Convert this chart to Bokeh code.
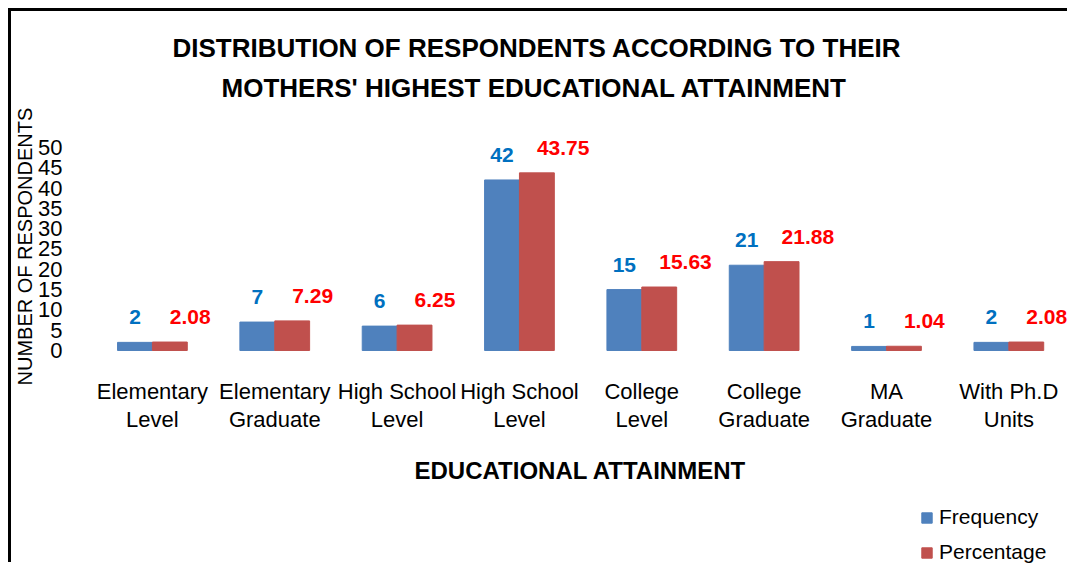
from bokeh.plotting import figure
from bokeh.models import (ColumnDataSource, Range1d, FixedTicker, Legend, LegendItem,
                          Title, Spacer)
from bokeh.layouts import column, row
from bokeh.core.properties import value
from bokeh.embed import file_html
from bokeh.resources import INLINE

categories = ["Elementary\nLevel", "Elementary\nGraduate", "High School\nLevel", "High School\nLevel",
              "College\nLevel", "College\nGraduate", "MA\nGraduate", "With Ph.D\nUnits"]
frequency = [2, 7, 6, 42, 15, 21, 1, 2]
percentage = [2.08, 7.29, 6.25, 43.75, 15.63, 21.88, 1.04, 2.08]
freq_labels = ["2", "7", "6", "42", "15", "21", "1", "2"]
pct_labels = ["2.08", "7.29", "6.25", "43.75", "15.63", "21.88", "1.04", "2.08"]
y_ticks = [0, 5, 10, 15, 20, 25, 30, 35, 40, 45, 50]
title_lines = ["DISTRIBUTION OF RESPONDENTS ACCORDING TO THEIR",
               "MOTHERS' HIGHEST EDUCATIONAL ATTAINMENT"]
series_names = ["Frequency", "Percentage"]
series_colors = ["#4F81BD", "#C0504D"]
label_colors = ["#0070C0", "#FF0000"]

idx = list(range(len(categories)))
BAR_W = 0.285
src = ColumnDataSource(dict(
    xb=[i - BAR_W / 2 for i in idx],
    xr=[i + BAR_W / 2 for i in idx],
    freq=frequency, pct=percentage,
    fl=freq_labels, pl=pct_labels,
))

FONT = "Liberation Sans"
W, H = 1059, 554

p = figure(width=W, height=H, output_backend="svg", toolbar_location=None, title=None,
           x_range=Range1d(-0.506, 7.504), y_range=Range1d(-52.96, 59.11),
           min_border_left=77, min_border_right=0, min_border_top=99, min_border_bottom=0)

t2 = Title(text=title_lines[1], align="left", offset=131, standoff=16,
           text_font=FONT, text_font_style="bold", text_font_size="26px", text_color="black")
t1 = Title(text=title_lines[0], align="left", offset=82, standoff=0,
           text_font=FONT, text_font_style="bold", text_font_size="26px", text_color="black")
p.add_layout(t2, "above")
p.add_layout(t1, "above")

p.outline_line_color = None
p.xgrid.grid_line_color = None
p.ygrid.grid_line_color = None

r1 = p.vbar(x="xb", top="freq", width=BAR_W, bottom=0, source=src,
            fill_color=series_colors[0], line_color=series_colors[0])
r2 = p.vbar(x="xr", top="pct", width=BAR_W, bottom=0, source=src,
            fill_color=series_colors[1], line_color=series_colors[1])

p.text(x="xb", y="freq", text="fl", source=src, text_align="center", text_baseline="middle",
       y_offset=-25, text_font=value(FONT), text_font_style="bold",
       text_font_size="21px", text_color=label_colors[0])
p.text(x="xr", y="pct", text="pl", source=src, text_align="left", text_baseline="middle",
       y_offset=-25, text_font=value(FONT), text_font_style="bold",
       text_font_size="21px", text_color=label_colors[1])

xa = p.xaxis[0]
xa.fixed_location = 0
xa.ticker = FixedTicker(ticks=idx)
xa.major_label_overrides = {i: c for i, c in zip(idx, categories)}
xa.major_label_text_font = FONT
xa.major_label_text_font_size = "22px"
xa.major_label_text_line_height = 1.1
xa.major_label_text_color = "black"
xa.major_label_standoff = 23
xa.major_tick_line_color = None
xa.minor_tick_line_color = None
xa.axis_line_color = None
xa.axis_label = "EDUCATIONAL ATTAINMENT"
xa.axis_label_text_font = FONT
xa.axis_label_text_font_style = "bold"
xa.axis_label_text_font_size = "24px"
xa.axis_label_text_color = "black"
xa.axis_label_standoff = 22

ya = p.yaxis[0]
ya.ticker = FixedTicker(ticks=y_ticks)
ya.major_label_text_font = FONT
ya.major_label_text_font_size = "22px"
ya.major_label_text_color = "black"
ya.major_label_standoff = 22
ya.major_tick_line_color = None
ya.minor_tick_line_color = None
ya.axis_line_color = None

ytitle = Title(text="NUMBER OF RESPONDENTS", align="left", offset=180, standoff=0,
               text_font=FONT, text_font_style="normal", text_font_size="20px",
               text_color="black")
p.add_layout(ytitle, "left")

legend = Legend(items=[LegendItem(label=n, renderers=[r]) for n, r in zip(series_names, [r1, r2])],
                location=(830, 1), orientation="vertical",
                label_text_font=FONT, label_text_font_size="21px",
                label_text_color="black", glyph_width=13, glyph_height=13,
                label_height=24, label_standoff=6, spacing=11, padding=0, margin=0,
                border_line_color=None, background_fill_alpha=0)
p.add_layout(legend)

p.styles = {"border-left": "3px solid black", "border-top": "3px solid black"}
layout = column(Spacer(height=8), row(Spacer(width=8), p))
open("out.html", "w").write(file_html(layout, INLINE))
